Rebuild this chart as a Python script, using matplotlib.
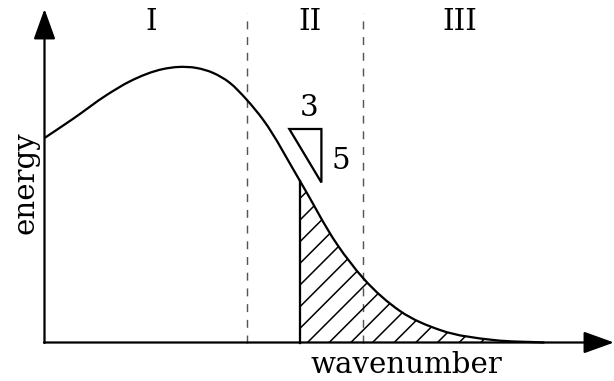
import matplotlib
matplotlib.use("Agg")
import matplotlib.pyplot as plt
from matplotlib.path import Path
from matplotlib.patches import PathPatch
import numpy as np

# Energy spectrum E(k), sampled along the curve
wavenumber = [0.00, 0.29, 0.622, 0.855, 1.188, 1.335, 1.522, 1.688, 1.855,
              2.022, 2.188, 2.555, 2.92, 3.19, 3.555, 3.955, 4.49, 5.00]
energy = [2.045, 2.24, 2.475, 2.612, 2.735, 2.755, 2.745, 2.695, 2.595,
          2.428, 2.225, 1.615, 0.99, 0.64, 0.315, 0.125, 0.025, 0.00]

# Boundaries between regions I / II / III and start of the shaded tail
region_bounds = [2.025, 3.185]
region_labels = ["I", "II", "III"]
region_label_x = [1.065, 2.658, 4.155]
shade_start = 2.555

# Slope indicator: run 3, rise 5
tri_run, tri_rise = 3, 5
tri_scale = 0.107
tri_corner = (2.448, 2.135)   # upper-left corner

plt.rcParams["font.family"] = ["DejaVu Serif"]
plt.rcParams["hatch.linewidth"] = 0.85
plt.rcParams["lines.scale_dashes"] = False

FS = 16.2
LW = 1.25

dpi = 130
fig = plt.figure(figsize=(614 / dpi, 381 / dpi), dpi=dpi)
ax = fig.add_axes([0, 0, 1, 1])
ax.set_xlim(-0.445, 5.695)
ax.set_ylim(-0.385, 3.425)
ax.axis("off")

k = np.array(wavenumber)
E = np.array(energy)


def hermite_segments(x, y):
    """Cubic Bezier vertices/codes of a smooth curve through (x, y)."""
    h = np.diff(x)
    d = np.diff(y) / h
    m = np.empty_like(y)
    m[0], m[-1] = d[0], d[-1]
    m[1:-1] = (h[:-1] * d[1:] + h[1:] * d[:-1]) / (h[:-1] + h[1:])
    verts, codes = [], []
    for i in range(len(x) - 1):
        t = h[i] / 3.0
        verts += [(x[i] + t, y[i] + m[i] * t),
                  (x[i + 1] - t, y[i + 1] - m[i + 1] * t),
                  (x[i + 1], y[i + 1])]
        codes += [Path.CURVE4] * 3
    return verts, codes


# Spectrum curve
v_all, c_all = hermite_segments(k, E)
curve = Path([(k[0], E[0])] + v_all, [Path.MOVETO] + c_all)
ax.add_patch(PathPatch(curve, facecolor="none", edgecolor="black", lw=LW,
                       zorder=3, capstyle="butt"))

# Shaded tail under the curve (same Bezier segments as the curve)
i0 = int(np.argmin(np.abs(k - shade_start)))
tail_verts = [(shade_start, 0.0), (k[i0], E[i0])] + v_all[3 * i0:] + \
             [(k[-1], 0.0), (shade_start, 0.0)]
tail_codes = [Path.MOVETO, Path.LINETO] + c_all[3 * i0:] + \
             [Path.LINETO, Path.CLOSEPOLY]
ax.add_patch(PathPatch(Path(tail_verts, tail_codes), facecolor="none",
                       edgecolor="black", hatch="//", lw=0, zorder=2))
ax.plot([shade_start, shade_start], [0, E[i0]], color="black", lw=LW,
        zorder=3)

# Axes with arrow heads
arrow_kw = dict(arrowstyle="-|>,head_length=1.0,head_width=0.36",
                mutation_scale=14.4, color="black", lw=LW,
                shrinkA=0, shrinkB=0)
ax.annotate("", xy=(5.695, 0), xytext=(-0.005, 0), arrowprops=arrow_kw,
            annotation_clip=False)
ax.annotate("", xy=(0, 3.335), xytext=(0, -0.005), arrowprops=arrow_kw,
            annotation_clip=False)

# Region boundaries
for xb in region_bounds:
    ax.plot([xb, xb], [0, 3.295], color="#555555", lw=0.8,
            linestyle=(0, (4.4, 4.3)), zorder=1)

# Slope triangle
x0, y0 = tri_corner
w = tri_run * tri_scale
h = tri_rise * tri_scale
ax.add_patch(plt.Polygon([(x0, y0), (x0 + w, y0), (x0 + w, y0 - h)],
                         closed=True, facecolor="none", edgecolor="black",
                         lw=LW, joinstyle="miter", zorder=3))
ax.text(x0 + w / 2 + 0.04, y0 + 0.215, str(tri_run), fontsize=FS,
        ha="center", va="center")
ax.text(x0 + w + 0.19, y0 - h / 2 - 0.05, str(tri_rise), fontsize=FS,
        ha="center", va="center")

# Region labels
for lab, xl in zip(region_labels, region_label_x):
    ax.text(xl, 3.2, lab, fontsize=FS, ha="center", va="center")

# Axis titles
ax.text(-0.185, 1.595, "energy", fontsize=FS, rotation=90,
        ha="center", va="center")
ax.text(3.622, -0.305, "wavenumber", fontsize=FS, ha="center",
        va="baseline")

fig.savefig("out.png", dpi=dpi)
